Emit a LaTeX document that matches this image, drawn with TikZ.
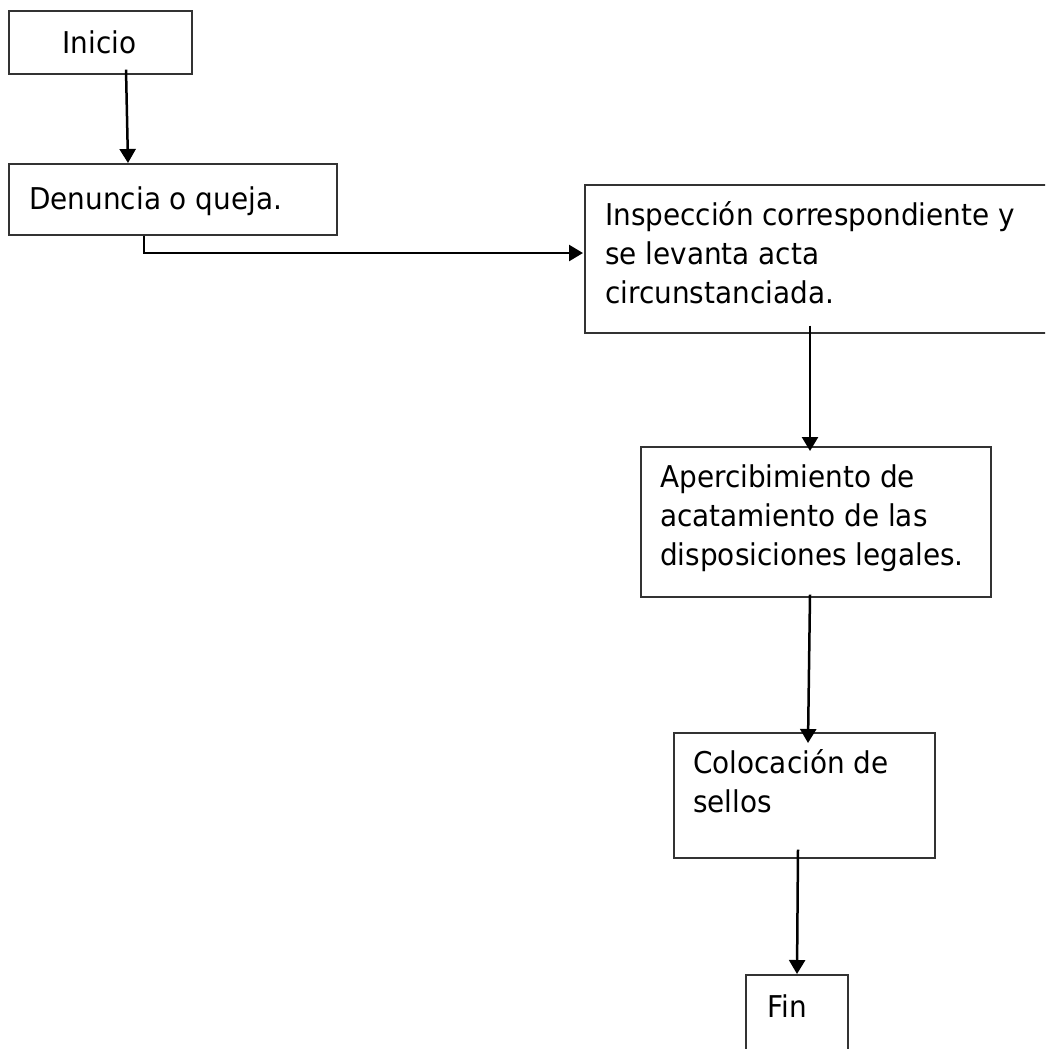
\documentclass[tikz,border=0pt]{standalone}
\usepackage{fontspec}
\setmainfont{DejaVu Sans}[FakeStretch=0.93]
\usetikzlibrary{arrows.meta,calc}
\tikzset{
  box/.style={draw=black!80, line width=1.6pt, inner sep=0pt, anchor=north west},
  label/.style={inner sep=0pt, anchor=base west, align=left, font=\fontsize{30}{39}\selectfont},
  arr/.style={draw=black, line width=2.5pt, -{Triangle[width=16pt,length=14pt]}},
}
\begin{document}
\begin{tikzpicture}[x=1pt,y=-1pt]
\useasboundingbox (0,0) rectangle (1045,1049);
\clip (0,0) rectangle (1045,1049);
% boxes
\node[box, minimum width=183pt, minimum height=63pt] (inicio) at (8,10) {};
\node[box, minimum width=328pt, minimum height=71pt] (denuncia) at (8,163) {};
\node[box, minimum width=470pt, minimum height=148pt] (insp) at (584,184) {};
\node[box, minimum width=350pt, minimum height=150pt] (aperc) at (640,446) {};
\node[box, minimum width=261pt, minimum height=125pt] (coloc) at (673,732) {};
\node[box, minimum width=102pt, minimum height=100pt] (fin) at (745,974) {};
% texts (multi-line nodes: base = baseline of last line)
\node[label, anchor=base] (tinicio) at (99.5,53) {Inicio};
\node[label] (tdenuncia) at (29,209) {Denuncia o queja.};
\node[label] (tinsp) at (605,303) {Inspección correspondiente y\\se levanta acta\\circunstanciada.};
\node[label] (taperc) at (660,565) {Apercibimiento de\\acatamiento de las\\disposiciones legales.};
\node[label] (tcoloc) at (693,812) {Colocación de\\sellos};
\node[label] (tfin) at (767,1017) {Fin};
% connectors
\draw[arr] ($(inicio.south west)+(118,-5)$) -- ($(denuncia.north west)+(120,0)$);
\draw[arr] ($(denuncia.south west)+(136,0)$) |- ($(insp.north west)+(-1,69)$);
\draw[arr] ($(insp.south west)+(226,-8)$) -- ($(aperc.north west)+(170,5)$);
\draw[arr] ($(aperc.south west)+(170,-3)$) -- ($(coloc.north west)+(135,11)$);
\draw[arr] ($(coloc.south west)+(125,-9)$) -- ($(fin.north west)+(52,0)$);
\end{tikzpicture}
\end{document}
